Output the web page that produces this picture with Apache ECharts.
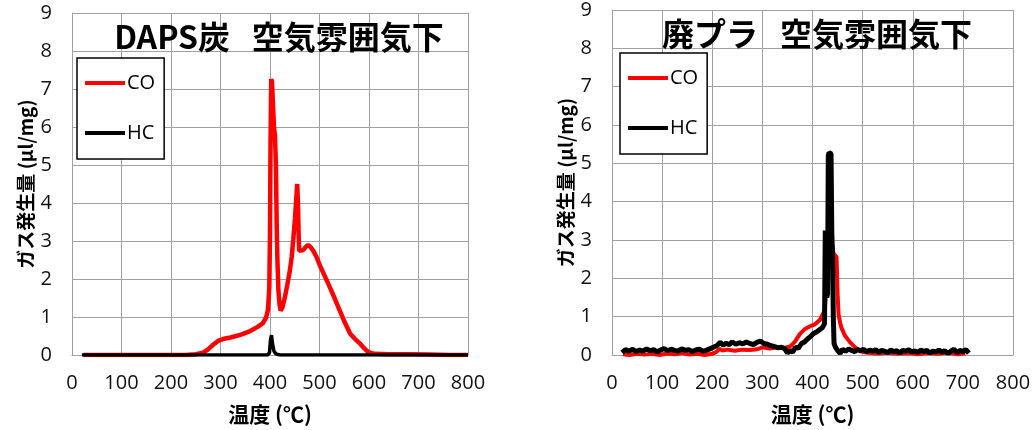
<!DOCTYPE html>
<html><head><meta charset="utf-8">
<script src="https://cdn.jsdelivr.net/npm/echarts@6/dist/echarts.min.js"></script>
<style>html,body{margin:0;padding:0;background:#fff}#c{width:1035px;height:430px}</style>
</head><body><div id="c"></div>
<script>
// ---- data ----
const titles = ['DAPS炭   空気雰囲気下', '廃プラ   空気雰囲気下'];
const seriesNames = ['CO', 'HC'];
const xTicks = [0, 100, 200, 300, 400, 500, 600, 700, 800];
const yTicks = [0, 1, 2, 3, 4, 5, 6, 7, 8, 9];
const xName = '温度 (℃)';
const yName = 'ガス発生量 (μl/mg)';

// Left: DAPS炭
const leftCoTemp = [23, 60, 100, 150, 200, 230, 250, 265, 275, 285, 295, 305, 320, 340, 360, 375, 385, 392, 396, 398.6, 400, 401, 402.5, 404, 406, 408, 410, 412, 413.5, 415, 417, 419.5, 421.6, 425, 430, 435, 440, 444, 447, 450.5, 453, 455, 456.5, 458, 459, 462, 467, 472, 477, 482, 487.5, 494, 501, 511, 521, 531, 541, 551, 562, 572, 582, 590, 598, 610, 640, 680, 720, 760, 800];
const leftCoVal  = [0.0, 0.0, 0.0, 0.0, 0.0, 0.0, 0.02, 0.06, 0.15, 0.27, 0.37, 0.42, 0.46, 0.53, 0.63, 0.74, 0.83, 0.98, 1.2, 1.78, 3.2, 5.5, 7.26, 7.2, 6.6, 6.0, 5.78, 5.0, 3.43, 2.5, 1.69, 1.3, 1.17, 1.25, 1.51, 1.85, 2.21, 2.6, 3.04, 3.6, 4.1, 4.5, 4.0, 3.1, 2.74, 2.72, 2.76, 2.84, 2.9, 2.84, 2.74, 2.58, 2.35, 2.07, 1.78, 1.48, 1.17, 0.86, 0.56, 0.42, 0.3, 0.18, 0.08, 0.03, 0.02, 0.02, 0.01, 0.0, 0.0];
const leftHcTemp = [20, 200, 395, 399, 401, 403, 405, 408, 412, 420, 452, 455, 458, 600, 800];
const leftHcVal  = [0.0, 0.0, 0.0, 0.06, 0.4, 0.52, 0.3, 0.1, 0.03, 0.0, 0.0, 0.05, 0.0, 0.0, 0.0];

// Right: 廃プラ
const rightCoTemp = [22, 35, 50, 65, 80, 95, 110, 125, 140, 155, 170, 185, 200, 208, 215, 220, 230, 245, 260, 275, 290, 300, 315, 330, 345, 355, 365, 375, 385, 395, 405, 415, 420, 424, 427, 430, 433, 435, 437, 439, 442, 445, 448, 450, 452, 455, 458, 465, 475, 485, 495, 510, 530, 550, 570, 590, 610, 630, 650, 670, 690, 705];
const rightCoVal  = [0.02, 0.0, 0.03, 0.01, 0.03, 0.0, 0.04, 0.02, 0.05, 0.01, 0.03, 0.0, 0.03, 0.08, 0.16, 0.12, 0.14, 0.11, 0.14, 0.13, 0.15, 0.2, 0.17, 0.2, 0.19, 0.22, 0.35, 0.55, 0.68, 0.75, 0.8, 0.92, 1.05, 1.15, 1.6, 2.1, 2.5, 2.85, 3.16, 2.9, 2.65, 2.6, 2.55, 1.6, 1.05, 0.85, 0.7, 0.5, 0.33, 0.2, 0.1, 0.06, 0.04, 0.06, 0.03, 0.05, 0.02, 0.05, 0.03, 0.06, 0.02, 0.04];
const rightHcTemp = [20, 27, 34, 41, 48, 55, 62, 69, 76, 83, 90, 97, 104, 111, 118, 125, 132, 139, 146, 153, 160, 167, 174, 181, 188, 195, 202, 209, 216, 222, 228, 234, 240, 247, 254, 261, 268, 275, 282, 289, 296, 303, 310, 317, 324, 331, 338, 345, 350, 355, 360, 366, 372, 378, 384, 390, 396, 402, 408, 414, 420, 424, 425.5, 427, 428.5, 430, 431.5, 433, 435, 437, 438.5, 440, 441.5, 443, 446, 450, 455, 460, 466, 472, 478, 484, 490, 496, 502, 508, 514, 520, 526, 532, 538, 544, 550, 556, 562, 568, 574, 580, 586, 592, 598, 604, 610, 616, 622, 628, 634, 640, 646, 652, 658, 664, 670, 676, 682, 688, 694, 700, 706, 712];
const rightHcVal  = [0.06, 0.14, 0.1, 0.15, 0.09, 0.13, 0.1, 0.16, 0.11, 0.14, 0.08, 0.13, 0.17, 0.11, 0.15, 0.12, 0.1, 0.16, 0.12, 0.14, 0.09, 0.13, 0.15, 0.1, 0.12, 0.16, 0.2, 0.24, 0.33, 0.26, 0.31, 0.27, 0.34, 0.28, 0.32, 0.29, 0.34, 0.3, 0.27, 0.33, 0.36, 0.3, 0.28, 0.24, 0.22, 0.19, 0.2, 0.16, 0.05, 0.12, 0.07, 0.2, 0.18, 0.3, 0.34, 0.42, 0.48, 0.56, 0.6, 0.66, 0.72, 0.82, 3.25, 3.0, 1.5, 1.6, 5.2, 5.28, 5.3, 5.25, 3.2, 2.6, 1.0, 0.3, 0.2, 0.12, 0.04, 0.15, 0.1, 0.16, 0.12, 0.09, 0.14, 0.11, 0.15, 0.08, 0.13, 0.1, 0.14, 0.07, 0.12, 0.1, 0.06, 0.13, 0.09, 0.11, 0.05, 0.12, 0.1, 0.14, 0.08, 0.11, 0.06, 0.13, 0.09, 0.12, 0.05, 0.1, 0.08, 0.13, 0.07, 0.11, 0.04, 0.1, 0.15, 0.06, 0.12, 0.09, 0.14, 0.05];

// ---- chart ----
const zip = (a, b) => a.map((v, i) => [v, b[i]]);
const gridColor = '#a0a0a0';
const tickFont = 'Open Sans';
const cjkFont = 'Noto Sans CJK JP';

function xAxis(gi) {
  return {
    type: 'value', gridIndex: gi, min: xTicks[0], max: xTicks[xTicks.length - 1], interval: 100,
    axisLine: { lineStyle: { color: gridColor, width: 1 } },
    axisTick: { show: false },
    splitLine: { show: true, lineStyle: { color: gridColor, width: 1 } },
    axisLabel: { color: '#111', fontSize: 20, fontFamily: tickFont, margin: 18 },
    name: xName, nameLocation: 'middle', nameGap: 49,
    nameTextStyle: { color: '#000', fontSize: 21, fontWeight: 'bold', fontFamily: cjkFont }
  };
}
function yAxis(gi) {
  return {
    type: 'value', gridIndex: gi, min: yTicks[0], max: yTicks[yTicks.length - 1], interval: 1,
    axisLine: { show: true, lineStyle: { color: gridColor, width: 1 } },
    axisTick: { show: false },
    splitLine: { show: true, lineStyle: { color: gridColor, width: 1 } },
    axisLabel: { color: '#111', fontSize: 20, fontFamily: tickFont, margin: 20 },
    name: yName, nameLocation: 'middle', nameGap: 37, nameRotate: 90,
    nameTextStyle: { color: '#000', fontSize: 19, fontWeight: 'bold', fontFamily: cjkFont }
  };
}
function legend(left, top) {
  return {
    left: left, top: top, orient: 'vertical', data: seriesNames,
    icon: 'rect', itemWidth: 40, itemHeight: 4, itemGap: 30,
    padding: [15, 9, 16, 8], borderColor: '#000', borderWidth: 1.5,
    backgroundColor: '#fff', selectedMode: false,
    textStyle: { color: '#000', fontSize: 20, fontFamily: tickFont, padding: [0, 0, 0, -3] }
  };
}
function line(name, gi, data, color, width) {
  return {
    name: name, type: 'line', xAxisIndex: gi, yAxisIndex: gi, data: data,
    symbol: 'none', smooth: false, animation: false, clip: true,
    lineStyle: { color: color, width: width }, itemStyle: { color: color }
  };
}

const chart = echarts.init(document.getElementById('c'));
chart.setOption({
  animation: false,
  backgroundColor: '#fff',
  title: [
    { text: titles[0], left: 274, top: 16, textAlign: 'center',
      textStyle: { fontSize: 32, fontWeight: 'bold', color: '#000', fontFamily: cjkFont } },
    { text: titles[1], left: 812, top: 13, textAlign: 'center',
      textStyle: { fontSize: 32, fontWeight: 'bold', color: '#000', fontFamily: cjkFont } }
  ],
  legend: [legend(77, 58), legend(620, 53)],
  grid: [
    { left: 72, top: 13, width: 396, height: 345, containLabel: false },
    { left: 612, top: 10, width: 401, height: 347, containLabel: false }
  ],
  xAxis: [xAxis(0), xAxis(1)],
  yAxis: [yAxis(0), yAxis(1)],
  series: [
    line('CO', 0, zip(leftCoTemp, leftCoVal), '#ff0000', 4.5),
    line('HC', 0, zip(leftHcTemp, leftHcVal), '#000000', 3.5),
    line('CO', 1, zip(rightCoTemp, rightCoVal), '#ff0000', 4),
    line('HC', 1, zip(rightHcTemp, rightHcVal), '#000000', 5)
  ]
});
</script>
</body></html>
